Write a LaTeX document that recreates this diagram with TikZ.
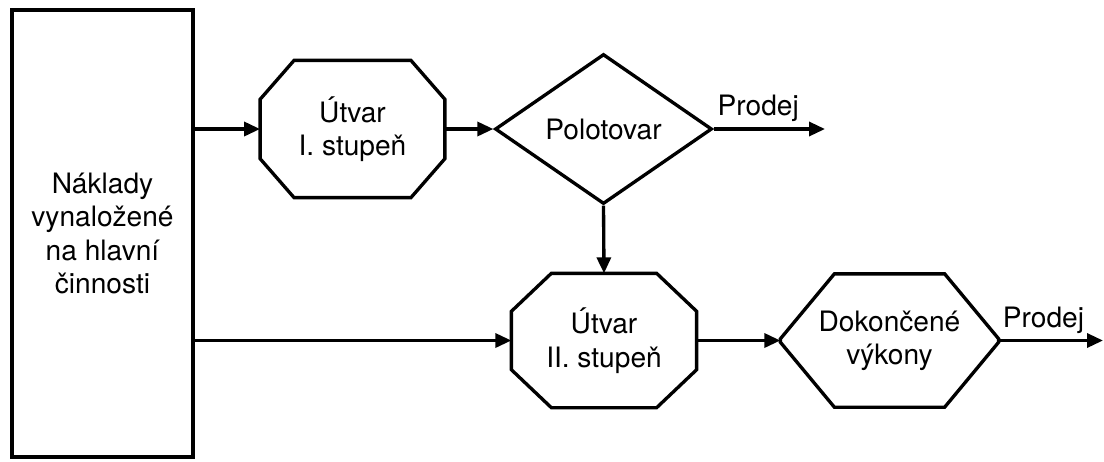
\documentclass[tikz,border=0pt]{standalone}
\usepackage{fontspec}
\setmainfont{TeX Gyre Heros}
\usetikzlibrary{shapes.geometric,calc,arrows.meta}

\tikzset{
 blok/.style={draw, line width=1.9pt, align=center, inner sep=0pt,
   font=\fontsize{16}{19}\selectfont},
 tvar/.style={blok, draw=none},
 sipka/.style={line width=1.9pt, -{Triangle[length=0.32cm,width=0.28cm]}},
 popis/.style={font=\fontsize{16}{19}\selectfont, inner sep=1pt}
}

% obrys se zkosenymi rohy kolem uzlu: #1 uzel, #2 zkoseni v x, #3 zkoseni v y
\newcommand{\obrys}[3]{%
 \draw[line width=1.9pt, line join=miter]
   ($(#1.north west)+(#2,0)$) -- ($(#1.north east)+(-#2,0)$)
   -- ($(#1.north east)+(0,-#3)$) -- ($(#1.south east)+(0,#3)$)
   -- ($(#1.south east)+(-#2,0)$) -- ($(#1.south west)+(#2,0)$)
   -- ($(#1.south west)+(0,#3)$) -- ($(#1.north west)+(0,-#3)$) -- cycle;}

\begin{document}
\begin{tikzpicture}[x=0.02cm,y=-0.02cm]
 \useasboundingbox (0,0) rectangle (1104,461);

 \node[blok, minimum width=3.62cm, minimum height=8.94cm] (naklady) at (102.5,233.5)
   {Náklady\\vynaložené\\na hlavní\\činnosti};

 \node[tvar, minimum width=3.63cm, minimum height=2.68cm] (utvar1) at (352.5,129) {Útvar\\I. stupeň};
 \obrys{utvar1}{0.68cm}{0.78cm}
 \node[blok, diamond, minimum width=4.34cm, minimum height=3cm] (polotovar) at (603.5,129) {Polotovar};
 \coordinate (prodej1) at (825,129);

 \node[tvar, minimum width=3.64cm, minimum height=2.62cm] (utvar2) at (604,340.5) {Útvar\\II. stupeň};
 \obrys{utvar2}{0.8cm}{0.76cm}
 \node[tvar, minimum width=4.3cm, minimum height=2.6cm] (vykony) at (889.5,340.5) {Dokončené\\výkony};
 \obrys{vykony}{1.08cm}{1.3cm}
 \coordinate (prodej2) at (1103,340.5);

 \draw[sipka] (naklady.east |- utvar1.west) -- (utvar1.west);
 \draw[sipka] (utvar1.east) -- (polotovar.west);
 \draw[sipka] (polotovar.east) -- node[popis, pos=0.4, above, yshift=2pt] {Prodej} (prodej1);
 \draw[sipka] (polotovar.south) -- (utvar2.north);

 \draw[sipka] (naklady.east |- utvar2.west) -- (utvar2.west);
 \draw[sipka] (utvar2.east) -- (vykony.west);
 \draw[sipka] (vykony.east) -- node[popis, pos=0.43, above, yshift=2pt] {Prodej} (prodej2);
\end{tikzpicture}
\end{document}
